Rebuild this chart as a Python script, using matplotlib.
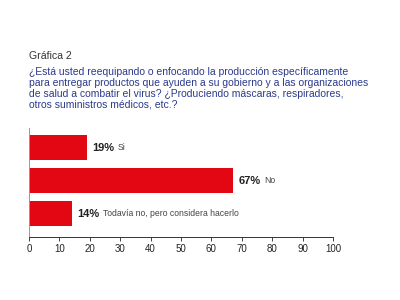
import matplotlib.pyplot as plt

plt.rcParams['font.family'] = ['Liberation Sans', 'DejaVu Sans']

categorias = ['Si', 'No', 'Todavía no, pero considera hacerlo']
valores = [19, 67, 14]
ticks = list(range(0, 101, 10))

fig = plt.figure(figsize=(4, 3), dpi=100)
ax = fig.add_axes([0.0725, 0.21, 0.76, 0.363])

y = range(len(valores))
ax.barh(y, valores, height=0.76, color='#e30613')
ax.set_ylim(2.71, -0.59)
ax.set_xlim(0, 100)
ax.set_xticks(ticks)
ax.set_yticks([])
ax.tick_params(axis='x', labelsize=7, length=3, width=0.6, pad=2, colors='#222222')

for s in ['top', 'right']:
    ax.spines[s].set_visible(False)
ax.spines['left'].set_color('#999999')
ax.spines['left'].set_linewidth(0.7)
ax.spines['bottom'].set_color('#333333')
ax.spines['bottom'].set_linewidth(0.7)

for i, (v, c) in enumerate(zip(valores, categorias)):
    t = ax.annotate(f'{v}%', xy=(v, i), xytext=(4, 0), textcoords='offset points',
                    va='center', ha='left', fontsize=8, fontweight='bold', color='#222222')
    ax.annotate(c, xy=(1, 0.5), xycoords=t, xytext=(2.5, 0), textcoords='offset points',
                va='center', ha='left', fontsize=6.2, color='#444444')

fig.text(0.0725, 0.813, 'Gráfica 2', fontsize=7.6, color='#333333', va='center')
pregunta = ('¿Está usted reequipando o enfocando la producción específicamente\n'
            'para entregar productos que ayuden a su gobierno y a las organizaciones\n'
            'de salud a combatir el virus? ¿Produciendo máscaras, respiradores,\n'
            'otros suministros médicos, etc.?')
fig.text(0.0725, 0.778, pregunta, fontsize=7.5, color='#2b3a8c', va='top', linespacing=1.14)

fig.savefig('out.png', dpi=100)
